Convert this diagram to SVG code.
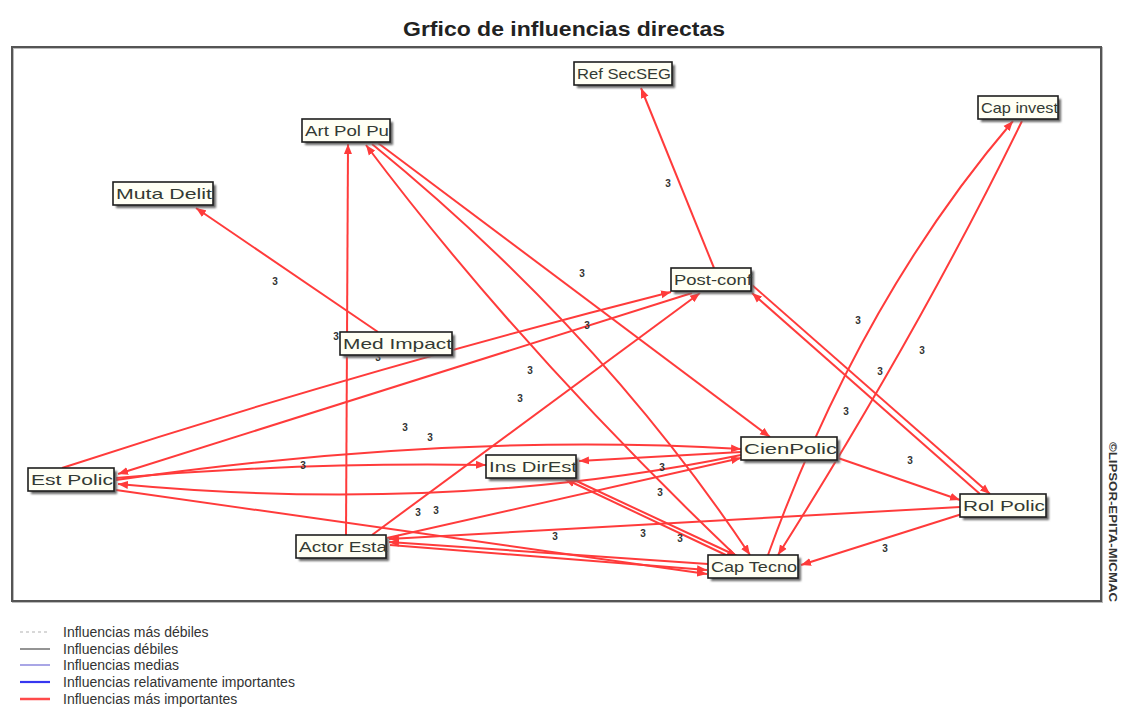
<svg xmlns="http://www.w3.org/2000/svg" width="1128" height="725" viewBox="0 0 1128 725">
  <defs>
    <marker id="arr" markerUnits="userSpaceOnUse" markerWidth="11" markerHeight="9" refX="10" refY="4.5" orient="auto">
      <path d="M0,0.5 L10,4.5 L0,8.5 z" fill="#ff3b3b"/>
    </marker>
    <filter id="soft" x="-10%" y="-10%" width="130%" height="140%">
      <feGaussianBlur stdDeviation="1.2"/>
    </filter>
  </defs>
  <style>
    .title { font-family: "Liberation Sans", Arial, sans-serif; font-weight: bold; font-size: 20px; fill: #222; }
    .frame { fill: none; stroke: #555; stroke-width: 2; }
    .edge { fill: none; stroke: #ff3b3b; stroke-width: 2; marker-end: url(#arr); }
    .elab { font-family: "Liberation Sans", Arial, sans-serif; font-size: 10px; font-weight: bold; fill: #333; text-anchor: middle; }
    .shadow { fill: #666; filter: url(#soft); }
    .box { fill: #fffff4; stroke: #1e1e1e; stroke-width: 1.6; }
    .ntext { font-family: "Liberation Sans", Arial, sans-serif; font-size: 15px; fill: #333a33; }
    .legend { font-family: "Liberation Sans", Arial, sans-serif; font-size: 14px; fill: #333; }
    .credit { font-family: "Liberation Sans", Arial, sans-serif; font-size: 11px; font-weight: bold; fill: #333; }
  </style>

  <rect width="1128" height="725" fill="#ffffff"/>

  <!-- title and frame -->
  <text class="title" x="564" y="36" text-anchor="middle" textLength="322" lengthAdjust="spacingAndGlyphs">Grfico de influencias directas</text>
  <rect x="13" y="48" width="1089" height="554" fill="none" stroke="#bbb" stroke-width="2"/>
  <rect class="frame" x="12" y="47" width="1089" height="554"/>

  <!-- connectors -->
  <g id="connectors">
    <!-- Post-conf to Ref SecSEG -->
    <path class="edge" d="M714,268 L641,88"/>
    <!-- Med Impact to Muta Delit -->
    <path class="edge" d="M378,332 L196,208"/>
    <!-- into Art Pol Pu / out of Art Pol Pu -->
    <path class="edge" d="M346,535 L348,144"/>
    <path class="edge" d="M735,555 Q520,350 366,145"/>
    <path class="edge" d="M372,144 Q600,330 750,555"/>
    <path class="edge" d="M378,143 L770,437"/>
    <!-- Est Polic fan -->
    <path class="edge" d="M62,468 Q355,372 671,292"/>
    <path class="edge" d="M692,293 L118,474"/>
    <path class="edge" d="M116,478 Q300,462 486,465"/>
    <path class="edge" d="M116,480 Q450,432 741,449"/>
    <path class="edge" d="M741,455 Q450,515 118,484"/>
    <path class="edge" d="M116,490 L707,574"/>
    <!-- Actor Esta -->
    <path class="edge" d="M372,535 L700,293"/>
    <path class="edge" d="M387,538 L741,458"/>
    <path class="edge" d="M390,545 L707,570"/>
    <path class="edge" d="M708,564 L389,542"/>
    <path class="edge" d="M960,507 L389,539"/>
    <!-- Rol Polic -->
    <path class="edge" d="M752,285 L990,494"/>
    <path class="edge" d="M980,494 L752,293"/>
    <path class="edge" d="M838,458 L960,500"/>
    <path class="edge" d="M962,514 L801,565"/>
    <!-- Cap invest / Cap Tecno -->
    <path class="edge" d="M768,555 Q860,300 1013,121"/>
    <path class="edge" d="M1022,121 Q920,330 778,555"/>
    <!-- Ins DirEst -->
    <path class="edge" d="M570,478 L737,556"/>
    <path class="edge" d="M728,556 L565,479"/>
    <path class="edge" d="M741,452 L579,461"/>
  </g>

  <!-- edge values -->
  <g id="edge-values">
    <text class="elab" x="668" y="187">3</text>
    <text class="elab" x="275" y="285">3</text>
    <text class="elab" x="582" y="277">3</text>
    <text class="elab" x="336" y="340">3</text>
    <text class="elab" x="378" y="361">3</text>
    <text class="elab" x="587" y="329">3</text>
    <text class="elab" x="530" y="374">3</text>
    <text class="elab" x="520" y="402">3</text>
    <text class="elab" x="405" y="431">3</text>
    <text class="elab" x="430" y="441">3</text>
    <text class="elab" x="303" y="469">3</text>
    <text class="elab" x="858" y="324">3</text>
    <text class="elab" x="922" y="354">3</text>
    <text class="elab" x="880" y="375">3</text>
    <text class="elab" x="846" y="415">3</text>
    <text class="elab" x="910" y="464">3</text>
    <text class="elab" x="662" y="471">3</text>
    <text class="elab" x="660" y="496">3</text>
    <text class="elab" x="418" y="516">3</text>
    <text class="elab" x="436" y="514">3</text>
    <text class="elab" x="555" y="540">3</text>
    <text class="elab" x="643" y="537">3</text>
    <text class="elab" x="680" y="542">3</text>
    <text class="elab" x="885" y="552">3</text>
  </g>

  <!-- variables -->
  <g id="node-refsecseg">
    <rect class="shadow" x="577" y="65" width="98" height="23"/>
    <rect class="box" x="574" y="62" width="98" height="23"/>
    <text class="ntext" x="577" y="79" textLength="94" lengthAdjust="spacingAndGlyphs">Ref SecSEG</text>
  </g>
  <g id="node-capinvest">
    <rect class="shadow" x="981" y="99" width="80" height="23"/>
    <rect class="box" x="978" y="96" width="80" height="23"/>
    <text class="ntext" x="981" y="113" textLength="77" lengthAdjust="spacingAndGlyphs">Cap invest</text>
  </g>
  <g id="node-artpolpu">
    <rect class="shadow" x="305" y="122" width="88" height="23"/>
    <rect class="box" x="302" y="119" width="88" height="23"/>
    <text class="ntext" x="305" y="136" textLength="84" lengthAdjust="spacingAndGlyphs">Art Pol Pu</text>
  </g>
  <g id="node-mutadelit">
    <rect class="shadow" x="116" y="185" width="100" height="23"/>
    <rect class="box" x="113" y="182" width="100" height="23"/>
    <text class="ntext" x="116" y="199" textLength="96" lengthAdjust="spacingAndGlyphs">Muta Delit</text>
  </g>
  <g id="node-postconf">
    <rect class="shadow" x="674" y="271" width="80" height="23"/>
    <rect class="box" x="671" y="268" width="80" height="23"/>
    <text class="ntext" x="674" y="285" textLength="78" lengthAdjust="spacingAndGlyphs">Post-conf</text>
  </g>
  <g id="node-medimpact">
    <rect class="shadow" x="343" y="335" width="112" height="23"/>
    <rect class="box" x="340" y="332" width="112" height="23"/>
    <text class="ntext" x="343" y="349" textLength="109" lengthAdjust="spacingAndGlyphs">Med Impact</text>
  </g>
  <g id="node-cienpolic">
    <rect class="shadow" x="744" y="440" width="96" height="23"/>
    <rect class="box" x="741" y="437" width="96" height="23"/>
    <text class="ntext" x="744" y="454" textLength="93" lengthAdjust="spacingAndGlyphs">CienPolic</text>
  </g>
  <g id="node-insdirest">
    <rect class="shadow" x="489" y="458" width="90" height="23"/>
    <rect class="box" x="486" y="455" width="90" height="23"/>
    <text class="ntext" x="489" y="472" textLength="88" lengthAdjust="spacingAndGlyphs">Ins DirEst</text>
  </g>
  <g id="node-estpolic">
    <rect class="shadow" x="31" y="471" width="86" height="23"/>
    <rect class="box" x="28" y="468" width="86" height="23"/>
    <text class="ntext" x="31" y="485" textLength="82" lengthAdjust="spacingAndGlyphs">Est Polic</text>
  </g>
  <g id="node-rolpolic">
    <rect class="shadow" x="963" y="497" width="86" height="23"/>
    <rect class="box" x="960" y="494" width="86" height="23"/>
    <text class="ntext" x="963" y="511" textLength="82" lengthAdjust="spacingAndGlyphs">Rol Polic</text>
  </g>
  <g id="node-actoresta">
    <rect class="shadow" x="299" y="538" width="90" height="23"/>
    <rect class="box" x="296" y="535" width="90" height="23"/>
    <text class="ntext" x="299" y="552" textLength="88" lengthAdjust="spacingAndGlyphs">Actor Esta</text>
  </g>
  <g id="node-captecno">
    <rect class="shadow" x="711" y="558" width="90" height="23"/>
    <rect class="box" x="708" y="555" width="90" height="23"/>
    <text class="ntext" x="711" y="572" textLength="86" lengthAdjust="spacingAndGlyphs">Cap Tecno</text>
  </g>

  <!-- credit line -->
  <text class="credit" transform="translate(1109,442) rotate(90)" textLength="160" lengthAdjust="spacingAndGlyphs">©LIPSOR-EPITA-MICMAC</text>

  <!-- legend -->
  <g id="legend">
    <line x1="20" y1="632" x2="50" y2="632" stroke="#ccc" stroke-width="1.5" stroke-dasharray="3,3"/>
    <line x1="20" y1="649" x2="50" y2="649" stroke="#888" stroke-width="1.8"/>
    <line x1="20" y1="665" x2="50" y2="665" stroke="#a9a6e6" stroke-width="2"/>
    <line x1="20" y1="682" x2="50" y2="682" stroke="#3636f0" stroke-width="2.2"/>
    <line x1="20" y1="699" x2="50" y2="699" stroke="#ff4a4a" stroke-width="2.5"/>
    <text class="legend" x="63" y="637">Influencias más débiles</text>
    <text class="legend" x="63" y="654">Influencias débiles</text>
    <text class="legend" x="63" y="670">Influencias medias</text>
    <text class="legend" x="63" y="687">Influencias relativamente importantes</text>
    <text class="legend" x="63" y="704">Influencias más importantes</text>
  </g>
</svg>
